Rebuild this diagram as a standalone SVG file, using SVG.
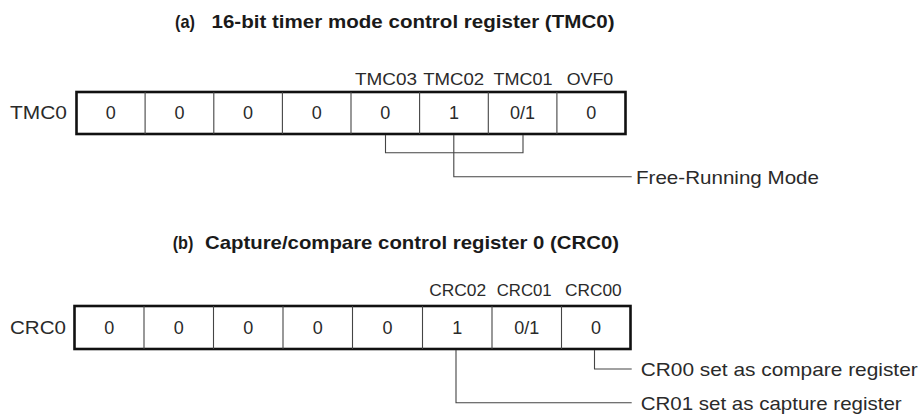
<svg xmlns="http://www.w3.org/2000/svg" width="923" height="417" viewBox="0 0 923 417">
<style>
.t{font-family:"Liberation Sans",Arial,sans-serif;font-weight:bold;font-size:19px;fill:#1a1a1a}
.v{font-family:"Liberation Sans",Arial,sans-serif;font-size:18px;fill:#2a2a2a;text-anchor:middle}
.b{font-family:"Liberation Sans",Arial,sans-serif;font-size:16.5px;fill:#2a2a2a;text-anchor:middle}
.l{font-family:"Liberation Sans",Arial,sans-serif;font-size:19px;fill:#2a2a2a}
.box{fill:#fff;stroke:#111;stroke-width:2.6}
.div{stroke:#444;stroke-width:1.1}
.c{fill:none;stroke:#444;stroke-width:1.1}
</style>
<rect width="923" height="417" fill="#fff"/>
<g id="title-a">
<text class="t" x="175" y="28" textLength="20" lengthAdjust="spacingAndGlyphs">(a)</text>
<text class="t" x="211.5" y="28" textLength="403" lengthAdjust="spacingAndGlyphs">16-bit timer mode control register (TMC0)</text>
</g>
<g id="reg-tmc0">
<text class="l" x="10" y="118.5" textLength="57" lengthAdjust="spacingAndGlyphs">TMC0</text>
<rect class="box" x="76.5" y="92" width="549" height="42"/>
<line class="div" x1="145.1" y1="92" x2="145.1" y2="134"/>
<line class="div" x1="213.8" y1="92" x2="213.8" y2="134"/>
<line class="div" x1="282.4" y1="92" x2="282.4" y2="134"/>
<line class="div" x1="351" y1="92" x2="351" y2="134"/>
<line class="div" x1="419.6" y1="92" x2="419.6" y2="134"/>
<line class="div" x1="488.3" y1="92" x2="488.3" y2="134"/>
<line class="div" x1="556.9" y1="92" x2="556.9" y2="134"/>
<text class="v" x="110.8" y="119">0</text>
<text class="v" x="179.4" y="119">0</text>
<text class="v" x="248.1" y="119">0</text>
<text class="v" x="316.7" y="119">0</text>
<text class="v" x="385.3" y="119">0</text>
<text class="v" x="453.9" y="119">1</text>
<text class="v" x="522.6" y="119">0/1</text>
<text class="v" x="591.2" y="119">0</text>
<text class="b" x="386" y="85" textLength="62" lengthAdjust="spacingAndGlyphs">TMC03</text>
<text class="b" x="453.7" y="85" textLength="61" lengthAdjust="spacingAndGlyphs">TMC02</text>
<text class="b" x="523" y="85" textLength="59" lengthAdjust="spacingAndGlyphs">TMC01</text>
<text class="b" x="590" y="85" textLength="46.5" lengthAdjust="spacingAndGlyphs">OVF0</text>
</g>
<g id="label-free">
<text class="l" x="636" y="184" textLength="183" lengthAdjust="spacingAndGlyphs">Free-Running Mode</text>
</g>
<g id="title-b">
<text class="t" x="172.7" y="249.3" textLength="20.7" lengthAdjust="spacingAndGlyphs">(b)</text>
<text class="t" x="205" y="249.3" textLength="414" lengthAdjust="spacingAndGlyphs">Capture/compare control register 0 (CRC0)</text>
</g>
<g id="reg-crc0">
<text class="l" x="10" y="334" textLength="56" lengthAdjust="spacingAndGlyphs">CRC0</text>
<rect class="box" x="74.5" y="306" width="556" height="43"/>
<line class="div" x1="144" y1="306" x2="144" y2="349"/>
<line class="div" x1="213.5" y1="306" x2="213.5" y2="349"/>
<line class="div" x1="283" y1="306" x2="283" y2="349"/>
<line class="div" x1="352.5" y1="306" x2="352.5" y2="349"/>
<line class="div" x1="422.5" y1="306" x2="422.5" y2="349"/>
<line class="div" x1="492" y1="306" x2="492" y2="349"/>
<line class="div" x1="561.5" y1="306" x2="561.5" y2="349"/>
<text class="v" x="109.2" y="334">0</text>
<text class="v" x="178.7" y="334">0</text>
<text class="v" x="248.2" y="334">0</text>
<text class="v" x="317.7" y="334">0</text>
<text class="v" x="387.5" y="334">0</text>
<text class="v" x="457.2" y="334">1</text>
<text class="v" x="526.7" y="334">0/1</text>
<text class="v" x="596" y="334">0</text>
<text class="b" x="457.7" y="296" textLength="57" lengthAdjust="spacingAndGlyphs">CRC02</text>
<text class="b" x="524.2" y="296" textLength="55" lengthAdjust="spacingAndGlyphs">CRC01</text>
<text class="b" x="593.3" y="296" textLength="56.7" lengthAdjust="spacingAndGlyphs">CRC00</text>
</g>
<g id="label-cr00">
<text class="l" x="640.7" y="376" textLength="277" lengthAdjust="spacingAndGlyphs">CR00 set as compare register</text>
</g>
<g id="label-cr01">
<text class="l" x="640.7" y="410" textLength="261" lengthAdjust="spacingAndGlyphs">CR01 set as capture register</text>
</g>
<g id="connectors">
<polyline class="c" points="385.5,135 385.5,152.7 523,152.7 523,135"/>
<polyline class="c" points="453.8,135 453.8,176.7 631.7,176.7"/>
<polyline class="c" points="594.5,350 594.5,369 631.7,369"/>
<polyline class="c" points="456,350 456,402.7 631.7,402.7"/>
</g>
</svg>
